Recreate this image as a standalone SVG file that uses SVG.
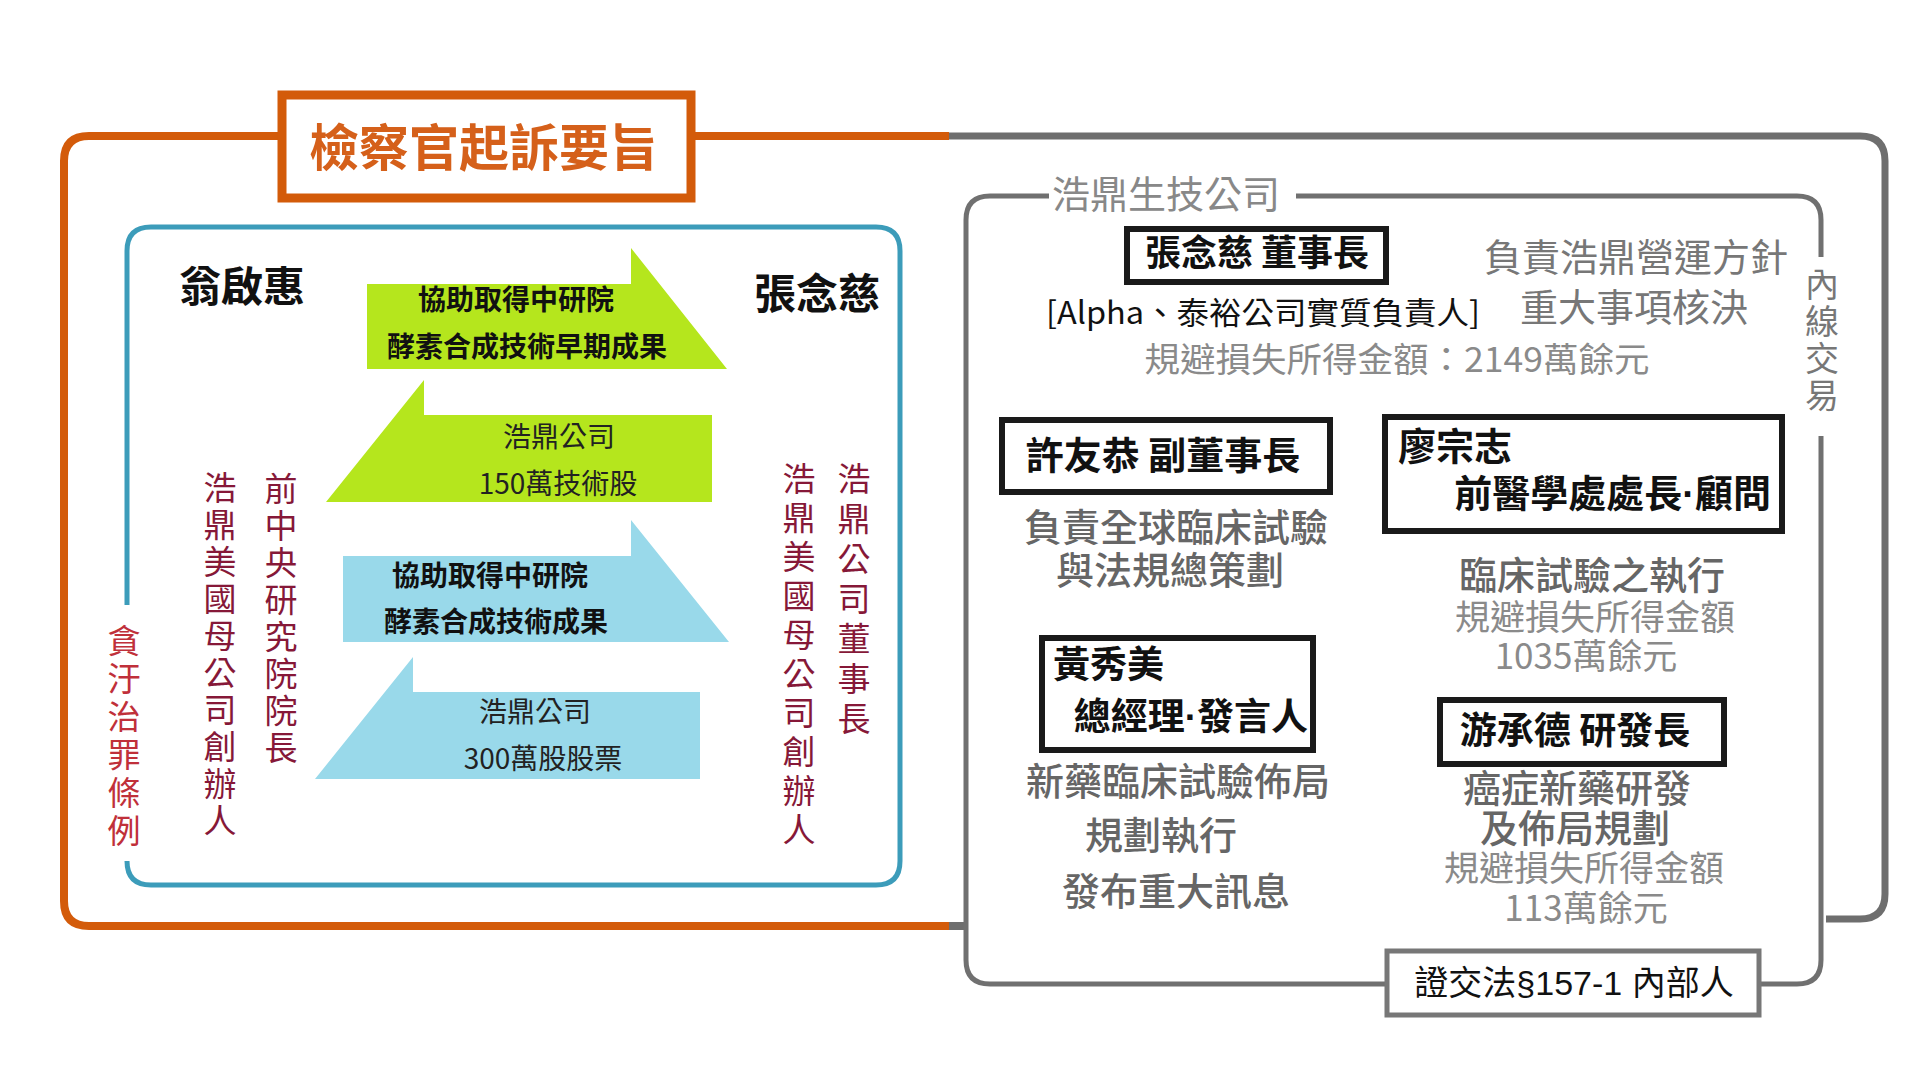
<svg xmlns="http://www.w3.org/2000/svg" width="1920" height="1080" viewBox="0 0 1920 1080">
<style>
text{font-family:"Noto Sans CJK TC","Noto Sans",sans-serif;}
.c{text-anchor:middle;}
.e{text-anchor:end;}
.b{font-weight:700;fill:#111;}
.g{fill:#666;font-weight:500;}
.lg{fill:#8a8a8a;}
.mr{fill:#861838;font-size:33px;text-anchor:middle;}
.box{fill:#fff;stroke:#1a1a1a;stroke-width:6;}
.frame{fill:none;stroke-linecap:butt;}
.lat{font-family:"Liberation Sans",sans-serif;}
</style>
<rect width="1920" height="1080" fill="#fff"/>

<g id="frames">
  <path class="frame" d="M949 136 H89 Q64 136 64 161 V901 Q64 926 89 926 H949" stroke="#D35B0A" stroke-width="8"/>
  <path class="frame" d="M949 136 H1860 Q1885 136 1885 161 V894 Q1885 919 1860 919 H1826" stroke="#6e6e6e" stroke-width="7"/>
  <path class="frame" d="M949 926 H966" stroke="#6e6e6e" stroke-width="8"/>
  <path class="frame" d="M127 605 V251 Q127 227 151 227 H876 Q900 227 900 251 V861 Q900 885 876 885 H151 Q127 885 127 861" stroke="#3C9CBA" stroke-width="5"/>
  <path class="frame" d="M1049 196 H990 Q966 196 966 220 V960 Q966 984 990 984 H1387 M1759 984 H1797 Q1821 984 1821 960 V436 M1821 257 V220 Q1821 196 1797 196 H1296" stroke="#707070" stroke-width="5"/>
</g>

<g id="title">
  <rect x="282" y="95" width="409" height="103" fill="#fff" stroke="#D35B0A" stroke-width="9"/>
  <text x="484" y="166" class="c" font-size="50" font-weight="700" fill="#D5601A">檢察官起訴要旨</text>
</g>

<g id="law-left">
  <text class="mr" style="fill:#C0303A"><tspan x="124" y="653">貪</tspan><tspan x="124" y="691">汙</tspan><tspan x="124" y="729">治</tspan><tspan x="124" y="767">罪</tspan><tspan x="124" y="805">條</tspan><tspan x="124" y="843">例</tspan></text>
</g>

<g id="weng">
  <text x="242" y="302" class="c" font-size="42" font-weight="700" fill="#111">翁啟惠</text>
  <text class="mr"><tspan x="220" y="500">浩</tspan><tspan x="220" y="537">鼎</tspan><tspan x="220" y="574">美</tspan><tspan x="220" y="611">國</tspan><tspan x="220" y="648">母</tspan><tspan x="220" y="685">公</tspan><tspan x="220" y="722">司</tspan><tspan x="220" y="759">創</tspan><tspan x="220" y="796">辦</tspan><tspan x="220" y="833">人</tspan></text>
  <text class="mr"><tspan x="281" y="501">前</tspan><tspan x="281" y="538">中</tspan><tspan x="281" y="575">央</tspan><tspan x="281" y="612">研</tspan><tspan x="281" y="649">究</tspan><tspan x="281" y="686">院</tspan><tspan x="281" y="723">院</tspan><tspan x="281" y="760">長</tspan></text>
</g>

<g id="zhang-left">
  <text x="817" y="309" class="c" font-size="42" font-weight="700" fill="#111">張念慈</text>
  <text class="mr"><tspan x="799" y="491">浩</tspan><tspan x="799" y="530">鼎</tspan><tspan x="799" y="569">美</tspan><tspan x="799" y="608">國</tspan><tspan x="799" y="647">母</tspan><tspan x="799" y="686">公</tspan><tspan x="799" y="725">司</tspan><tspan x="799" y="764">創</tspan><tspan x="799" y="803">辦</tspan><tspan x="799" y="842">人</tspan></text>
  <text class="mr"><tspan x="854" y="491">浩</tspan><tspan x="854" y="531">鼎</tspan><tspan x="854" y="571">公</tspan><tspan x="854" y="611">司</tspan><tspan x="854" y="651">董</tspan><tspan x="854" y="691">事</tspan><tspan x="854" y="731">長</tspan></text>
</g>

<g id="connectors">
  <g id="arrow-green-1">
    <polygon points="367,284 631,284 631,248 727,369 367,369" fill="#B5E61D"/>
    <text x="516" y="310" class="c b" font-size="28">協助取得中研院</text>
    <text x="527" y="357" class="c b" font-size="28">酵素合成技術早期成果</text>
  </g>
  <g id="arrow-green-2">
    <polygon points="712,415 424,415 424,380 326,502 712,502" fill="#B5E61D"/>
    <text x="559" y="447" class="c" font-size="28" fill="#222">浩鼎公司</text>
    <text x="558" y="494" class="c" font-size="28" fill="#222">150萬技術股</text>
  </g>
  <g id="arrow-blue-1">
    <polygon points="343,556 631,556 631,520 729,642 343,642" fill="#99D9EA"/>
    <text x="490" y="586" class="c b" font-size="28">協助取得中研院</text>
    <text x="496" y="632" class="c b" font-size="28">酵素合成技術成果</text>
  </g>
  <g id="arrow-blue-2">
    <polygon points="700,692 413,692 413,657 315,779 700,779" fill="#99D9EA"/>
    <text x="535" y="722" class="c" font-size="28" fill="#222">浩鼎公司</text>
    <text x="543" y="769" class="c" font-size="28" fill="#222">300萬股股票</text>
  </g>
</g>

<g id="company-title">
  <text x="1166" y="208" class="c" font-size="38" fill="#888">浩鼎生技公司</text>
</g>

<g id="insider-label">
  <text font-size="34" fill="#777" class="c"><tspan x="1822" y="297">內</tspan><tspan x="1822" y="334">線</tspan><tspan x="1822" y="371">交</tspan><tspan x="1822" y="408">易</tspan></text>
</g>

<g id="node-zhang">
  <rect x="1127" y="229" width="259" height="53" class="box"/>
  <text x="1257" y="266" class="c b" font-size="36">張念慈 董事長</text>
  <text x="1263" y="324" class="c" font-size="31" fill="#111" textLength="434" lengthAdjust="spacingAndGlyphs">[Alpha、泰裕公司實質負責人]</text>
  <text x="1397" y="372" class="c lg" font-size="34" textLength="505" lengthAdjust="spacingAndGlyphs">規避損失所得金額：2149萬餘元</text>
  <text x="1636" y="271" class="c" font-size="38" fill="#777">負責浩鼎營運方針</text>
  <text x="1634" y="321" class="c" font-size="38" fill="#777">重大事項核決</text>
</g>

<g id="node-hsu">
  <rect x="1002" y="420" width="328" height="72" class="box"/>
  <text x="1163" y="469" class="c b" font-size="38">許友恭 副董事長</text>
  <text x="1176" y="541" class="c g" font-size="38">負責全球臨床試驗</text>
  <text x="1170" y="584" class="c g" font-size="38">與法規總策劃</text>
</g>

<g id="node-liao">
  <rect x="1385" y="417" width="397" height="114" class="box"/>
  <text x="1398" y="460" class="b" font-size="38">廖宗志</text>
  <text x="1771" y="507" class="e b" font-size="38">前醫學處處長<tspan class="lat">·</tspan>顧問</text>
  <text x="1592" y="589" class="c g" font-size="38">臨床試驗之執行</text>
  <text x="1595" y="630" class="c lg" font-size="35">規避損失所得金額</text>
  <text x="1586" y="669" class="c lg" font-size="35">1035萬餘元</text>
</g>

<g id="node-huang">
  <rect x="1042" y="638" width="271" height="112" class="box"/>
  <text x="1053" y="678" class="b" font-size="37">黃秀美</text>
  <text x="1308" y="730" class="e b" font-size="37">總經理<tspan class="lat">·</tspan>發言人</text>
  <text x="1178" y="795" class="c g" font-size="38">新藥臨床試驗佈局</text>
  <text x="1161" y="849" class="c g" font-size="38">規劃執行</text>
  <text x="1176" y="905" class="c g" font-size="38">發布重大訊息</text>
</g>

<g id="node-yu">
  <rect x="1440" y="700" width="284" height="64" class="box"/>
  <text x="1575" y="744" class="c b" font-size="37">游承德 研發長</text>
  <text x="1577" y="802" class="c g" font-size="38">癌症新藥研發</text>
  <text x="1575" y="842" class="c g" font-size="38">及佈局規劃</text>
  <text x="1584" y="881" class="c lg" font-size="35">規避損失所得金額</text>
  <text x="1586" y="921" class="c lg" font-size="35">113萬餘元</text>
</g>

<g id="law-right">
  <rect x="1387" y="951" width="372" height="64" fill="#fff" stroke="#777" stroke-width="5"/>
  <text x="1574" y="995" class="c" font-size="34" fill="#111">證交法<tspan class="lat">§157-1 </tspan>內部人</text>
</g>
</svg>
